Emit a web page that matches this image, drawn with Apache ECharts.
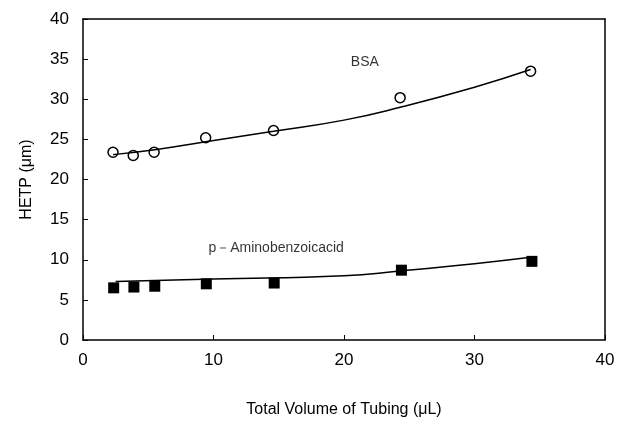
<!DOCTYPE html>
<html><head><meta charset="utf-8">
<script src="https://cdn.jsdelivr.net/npm/echarts@6/dist/echarts.min.js"></script>
<style>html,body{margin:0;padding:0;background:#fff}#c{width:622px;height:423px}</style>
</head><body><div id="c"></div>
<script>
const bsaX = [2.3, 3.85, 5.45, 9.4, 14.6, 24.3, 34.3];
const bsaY = [23.4, 23.0, 23.4, 25.2, 26.1, 30.2, 33.5];
const pabaX = [2.35, 3.9, 5.5, 9.45, 14.65, 24.4, 34.4];
const pabaY = [6.5, 6.6, 6.7, 7.0, 7.1, 8.7, 9.8];
const bsaFitX = [2.3, 5.5, 9.4, 14.6, 20, 24.3, 30, 34.3];
const bsaFitY = [23.1, 23.7, 24.7, 26.0, 27.4, 29.0, 31.5, 33.7];
const pabaFitX = [2.5, 10, 20, 24.3, 30, 34.3];
const pabaFitY = [7.3, 7.6, 8.0, 8.6, 9.5, 10.3];
const z = (a, b) => a.map((v, i) => [v, b[i]]);
const font = "'Liberation Sans', Arial, sans-serif";
const line = {show: true, onZero: false, lineStyle: {color: '#000', width: 1.5}};
const chart = echarts.init(document.getElementById('c'));
chart.setOption({
  animation: false,
  grid: {left: 83, right: 17, top: 19, bottom: 83},
  xAxis: [{type: 'value', min: 0, max: 40, interval: 10,
    name: 'Total Volume of Tubing (μL)', nameLocation: 'middle', nameGap: 62,
    nameTextStyle: {fontFamily: font, fontSize: 16, color: '#000'},
    axisLine: line,
    axisTick: {inside: true, length: 5, lineStyle: {color: '#000'}},
    axisLabel: {fontFamily: font, fontSize: 17, color: '#000', margin: 12},
    splitLine: {show: false}},
    {type: 'value', position: 'top', min: 0, max: 40, interval: 10, axisLine: line,
     axisTick: {show: false}, axisLabel: {show: false}, splitLine: {show: false}}],
  yAxis: [{type: 'value', min: 0, max: 40, interval: 5,
    name: 'HETP (μm)', nameLocation: 'middle', nameGap: 48,
    nameTextStyle: {fontFamily: font, fontSize: 16, color: '#000'},
    axisLine: line,
    axisTick: {inside: true, length: 5, lineStyle: {color: '#000'}},
    axisLabel: {fontFamily: font, fontSize: 17, color: '#000', margin: 14},
    splitLine: {show: false}},
    {type: 'value', position: 'right', min: 0, max: 40, interval: 5, axisLine: line,
     axisTick: {show: false}, axisLabel: {show: false}, splitLine: {show: false}}],
  series: [
    {type: 'line', data: z(bsaFitX, bsaFitY), smooth: true, symbol: 'none', lineStyle: {color: '#000', width: 1.5}},
    {type: 'line', data: z(pabaFitX, pabaFitY), smooth: true, symbol: 'none', lineStyle: {color: '#000', width: 1.5}},
    {type: 'scatter', data: z(bsaX, bsaY), symbol: 'circle', symbolSize: 10,
      itemStyle: {color: '#fff', borderColor: '#000', borderWidth: 1.5, opacity: 1}},
    {type: 'scatter', data: z(pabaX, pabaY), symbol: 'rect', symbolSize: 11, itemStyle: {color: '#000', opacity: 1}},
    {type: 'scatter', symbolSize: 0, silent: true,
      data: [{value: [21.6, 34.6], name: 'BSA'}, {value: [14.8, 11.5], name: 'p－Aminobenzoicacid'}],
      label: {show: true, position: 'inside', formatter: '{b}', fontFamily: font, fontSize: 14, color: '#000'}}
  ]
});
</script></body></html>
